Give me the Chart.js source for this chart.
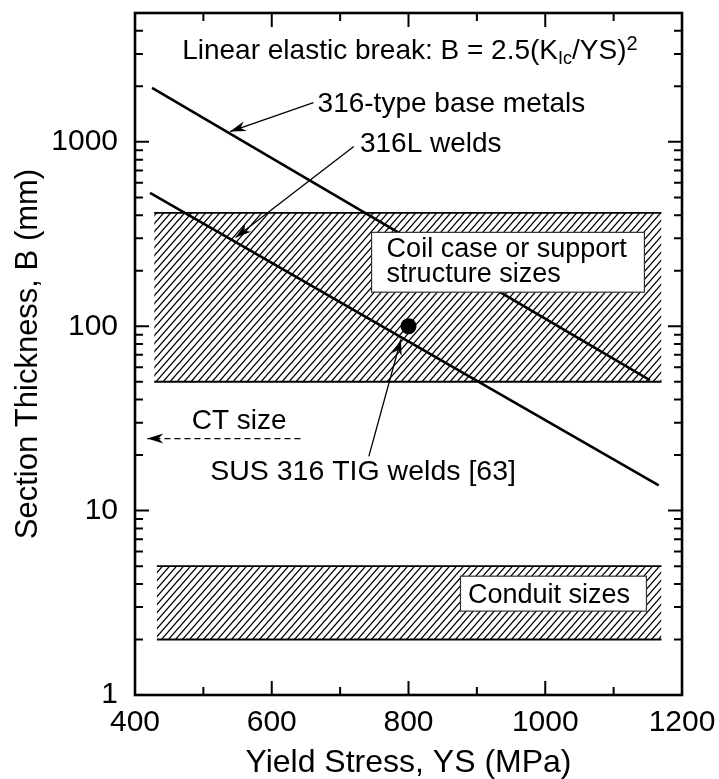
<!DOCTYPE html>
<html>
<head>
<meta charset="utf-8">
<script src="https://cdn.jsdelivr.net/npm/chart.js@4.4.1/dist/chart.umd.min.js"></script>
<style>
html, body { margin: 0; padding: 0; background: #fff; }
</style>
</head>
<body>
<canvas id="sizeChart" width="719" height="779"></canvas>
<script>
/////////////////////////////// DATA ///////////////////////////////
const xTickValues = [400, 600, 800, 1000, 1200];
const xMinorValues = [500, 700, 900, 1100];
const yTickValues = [1, 10, 100, 1000];
const yMinorValues = [2, 3, 4, 5, 6, 7, 8, 9, 20, 30, 40, 50, 60, 70, 80, 90,
    200, 300, 400, 500, 600, 700, 800, 900, 2000, 3000, 4000];

const baseMetalYS = [425, 1153];
const baseMetalB = [1960, 51];

const weld316LYS = [422, 1166];
const weld316LB = [529, 13.7];

const tigWeldYS = [800];
const tigWeldB = [100];

const coilBandYS = [428, 1170];
const coilBandLow = [50, 50];
const coilBandHigh = [412, 412];

const conduitBandYS = [432, 1170];
const conduitBandLow = [2, 2];
const conduitBandHigh = [5, 5];

const ctSizeB = 24.6;

/////////////////////////////// ANNOTATIONS ///////////////////////////////
const fontFamily = '"Liberation Sans", Arial, Helvetica, sans-serif';

// arrows in data coordinates: tail -> head
const arrows = [
    { from: [661, 1633], to: [539, 1137] },
    { from: [720, 943], to: [547, 303] },
    { from: [742, 19.7], to: [789, 85] },
    { from: [642, ctSizeB], to: [418, ctSizeB], dashed: true },
];

const notes = [
    { text: "316-type base metals", x: 667, y: 1593, size: 28 },
    { text: "316L welds", x: 729, y: 967, size: 28 },
    { text: "Coil case or support", x: 768, y: 260, size: 27 },
    { text: "structure sizes", x: 768, y: 190, size: 27 },
    { text: "CT size", x: 483, y: 30.4, size: 28 },
    { text: "SUS 316 TIG welds [63]", x: 510, y: 16.1, size: 28.5 },
    { text: "Conduit sizes", x: 887, y: 3.46, size: 27 },
];

const boxes = [
    { x1: 746, x2: 1145, y1: 153, y2: 323 },
    { x1: 876, x2: 1148, y1: 2.85, y2: 4.41 },
];

/////////////////////////////// HELPERS ///////////////////////////////
function toPoints(xs, ys) {
    return xs.map((x, i) => ({ x: x, y: ys[i] }));
}

function makeHatch(ctx) {
    const w = 7, h = 8;
    const c = document.createElement("canvas");
    c.width = w; c.height = h;
    const g = c.getContext("2d");
    g.strokeStyle = "#000";
    g.lineWidth = 1.2;
    g.beginPath();
    g.moveTo(-w, 2 * h); g.lineTo(2 * w, -h);
    g.moveTo(-2 * w, 2 * h); g.lineTo(w, -h);
    g.moveTo(0, 2 * h); g.lineTo(3 * w, -h);
    g.stroke();
    return ctx.createPattern(c, "repeat");
}

function drawArrow(ctx, x1, y1, x2, y2, dashed) {
    ctx.setLineDash(dashed ? [6, 4] : []);
    ctx.beginPath();
    ctx.moveTo(x1, y1);
    ctx.lineTo(x2, y2);
    ctx.stroke();
    ctx.setLineDash([]);
    const ang = Math.atan2(y2 - y1, x2 - x1);
    const L = 16, W = 5;
    const c = Math.cos(ang), s = Math.sin(ang);
    ctx.beginPath();
    ctx.moveTo(x2, y2);
    ctx.lineTo(x2 - L * c + W * s, y2 - L * s - W * c);
    ctx.lineTo(x2 - 0.7 * L * c, y2 - 0.7 * L * s);
    ctx.lineTo(x2 - L * c - W * s, y2 - L * s + W * c);
    ctx.closePath();
    ctx.fill();
}

/////////////////////////////// OVERLAY PLUGIN ///////////////////////////////
const overlayPlugin = {
    id: "overlay",
    afterDatasetsDraw(chart) {
        const ctx = chart.ctx;
        const xs = chart.scales.x, ys = chart.scales.y;
        const a = chart.chartArea;
        const px = v => xs.getPixelForValue(v);
        const py = v => ys.getPixelForValue(v);
        ctx.save();

        // label boxes
        ctx.lineWidth = 1.2;
        ctx.strokeStyle = "#333";
        ctx.fillStyle = "#fff";
        boxes.forEach(b => {
            const l = px(b.x1), r = px(b.x2), t = py(b.y2), bt = py(b.y1);
            ctx.fillRect(l, t, r - l, bt - t);
            ctx.strokeRect(l, t, r - l, bt - t);
        });

        // arrows
        ctx.strokeStyle = "#000";
        ctx.fillStyle = "#000";
        ctx.lineWidth = 1.3;
        arrows.forEach(ar => {
            drawArrow(ctx, px(ar.from[0]), py(ar.from[1]), px(ar.to[0]), py(ar.to[1]), ar.dashed);
        });

        // notes
        ctx.textBaseline = "middle";
        ctx.textAlign = "left";
        notes.forEach(n => {
            ctx.font = n.size + "px " + fontFamily;
            ctx.fillText(n.text, px(n.x), py(n.y));
        });

        // formula with sub/superscript
        let fx = px(469), fy = py(3090);
        const parts = [
            ["Linear elastic break: B = 2.5(K", 28, 0],
            ["Ic", 18, 7],
            ["/YS)", 28, 0],
            ["2", 20, -7],
        ];
        parts.forEach(p => {
            ctx.font = p[1] + "px " + fontFamily;
            ctx.fillText(p[0], fx, fy + p[2]);
            fx += ctx.measureText(p[0]).width;
        });

        // frame
        ctx.lineWidth = 2.6;
        ctx.strokeRect(a.left, a.top, a.right - a.left, a.bottom - a.top);

        // inward ticks
        ctx.lineWidth = 2;
        const major = 14, minor = 8;
        ctx.beginPath();
        yTickValues.concat(yMinorValues).forEach(v => {
            const y = py(v);
            if (y < a.top || y > a.bottom) return;
            const len = yTickValues.includes(v) ? major : minor;
            ctx.moveTo(a.left, y); ctx.lineTo(a.left + len, y);
            ctx.moveTo(a.right, y); ctx.lineTo(a.right - len, y);
        });
        xTickValues.concat(xMinorValues).forEach(v => {
            const x = px(v);
            const len = xTickValues.includes(v) ? major : minor;
            ctx.moveTo(x, a.bottom); ctx.lineTo(x, a.bottom - len);
            ctx.moveTo(x, a.top); ctx.lineTo(x, a.top + len);
        });
        ctx.stroke();
        ctx.restore();
    }
};

/////////////////////////////// CREATE CHART ///////////////////////////////
const ctx = document.getElementById("sizeChart").getContext("2d");
const hatch = makeHatch(ctx);

const sizeChart = new Chart(ctx, {
    type: "line",
    data: {
        datasets: [
            { label: "316-type base metals", data: toPoints(baseMetalYS, baseMetalB), borderColor: "#000", borderWidth: 2.6, pointRadius: 0, fill: false, order: 1 },
            { label: "316L welds", data: toPoints(weld316LYS, weld316LB), borderColor: "#000", borderWidth: 2.6, pointRadius: 0, fill: false, order: 1 },
            { label: "SUS 316 TIG welds [63]", data: toPoints(tigWeldYS, tigWeldB), showLine: false, pointRadius: 8, pointBackgroundColor: "#000", pointBorderWidth: 0, order: 0 },
            { label: "Coil case low", data: toPoints(coilBandYS, coilBandLow), borderColor: "#000", borderWidth: 1.8, pointRadius: 0, fill: false, order: 3 },
            { label: "Coil case high", data: toPoints(coilBandYS, coilBandHigh), borderColor: "#000", borderWidth: 1.8, pointRadius: 0, fill: "-1", backgroundColor: hatch, order: 2 },
            { label: "Conduit low", data: toPoints(conduitBandYS, conduitBandLow), borderColor: "#000", borderWidth: 1.8, pointRadius: 0, fill: false, order: 3 },
            { label: "Conduit high", data: toPoints(conduitBandYS, conduitBandHigh), borderColor: "#000", borderWidth: 1.8, pointRadius: 0, fill: "-1", backgroundColor: hatch, order: 2 },
        ],
    },
    options: {
        responsive: false,
        animation: false,
        devicePixelRatio: 1,
        layout: { padding: { top: 13, right: 37, left: 0, bottom: 0 } },
        plugins: { legend: { display: false }, tooltip: { enabled: false } },
        scales: {
            x: {
                type: "linear",
                min: 400,
                max: 1200,
                afterBuildTicks: s => { s.ticks = xTickValues.map(v => ({ value: v })); },
                afterFit: s => { s.height = 84; s.paddingLeft = 0; s.paddingRight = 0; },
                grid: { display: false, drawTicks: false },
                border: { display: false },
                ticks: { color: "#000", padding: 10, maxRotation: 0, font: { family: fontFamily, size: 30 }, callback: v => String(v) },
                title: { display: true, text: "Yield Stress, YS (MPa)", color: "#000", padding: 0, font: { family: fontFamily, size: 32, lineHeight: 1.0 } },
            },
            y: {
                type: "logarithmic",
                min: 1,
                max: 5000,
                afterBuildTicks: s => { s.ticks = yTickValues.map(v => ({ value: v })); },
                afterFit: s => { s.width = 135; s.paddingTop = 0; s.paddingBottom = 0; },
                grid: { display: false, drawTicks: false },
                border: { display: false },
                ticks: { color: "#000", padding: 17, font: { family: fontFamily, size: 30 }, callback: v => String(v) },
                title: { display: true, text: "Section Thickness, B (mm)", color: "#000", padding: { top: 10, bottom: 0 }, font: { family: fontFamily, size: 31 } },
            },
        },
    },
    plugins: [overlayPlugin],
});
</script>
</body>
</html>
